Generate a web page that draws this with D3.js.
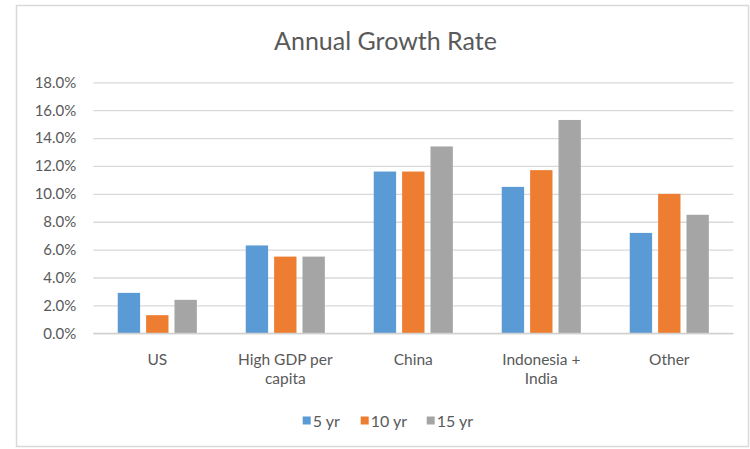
<!DOCTYPE html>
<html>
<head>
<meta charset="utf-8">
<script src="https://cdn.jsdelivr.net/npm/d3@7"></script>
<style>
  html, body { margin: 0; padding: 0; background: #fff; }
  svg { display: block; font-family: Lato, "Open Sans", sans-serif; }
</style>
</head>
<body>
<svg id="chart" width="750" height="449"></svg>
<script>
// Annual growth rate by region, three trailing horizons (percent)
const categories = ["US", "High GDP per capita", "China", "Indonesia + India", "Other"];
const seriesNames = ["5 yr", "10 yr", "15 yr"];
const growth5yr  = [2.9, 6.3, 11.6, 10.5, 7.2];
const growth10yr = [1.3, 5.5, 11.6, 11.7, 10.0];
const growth15yr = [2.4, 5.5, 13.4, 15.3, 8.5];
const yTicks = [0, 2, 4, 6, 8, 10, 12, 14, 16, 18];
const colors = ["#5B9BD5", "#ED7D31", "#A5A5A5"];

const seriesValues = [growth5yr, growth10yr, growth15yr];
const textColor = "#595959";

const svg = d3.select("#chart");

// chart frame
svg.append("rect")
  .attr("x", 16.5).attr("y", 5.5)
  .attr("width", 732).attr("height", 441)
  .attr("fill", "#fff")
  .attr("stroke", "#d9d9d9").attr("stroke-width", 1.5);

const plot = { left: 93.3, right: 733.3, top: 82.3, bottom: 333.3 };

const x = d3.scaleBand().domain(categories).range([plot.left, plot.right]).padding(0);
const xs = d3.scaleBand().domain(seriesNames)
  .range([x.bandwidth() * 0.191, x.bandwidth() * (1 - 0.191)])
  .paddingInner(0.212).paddingOuter(0);
const y = d3.scaleLinear().domain([0, 18]).range([plot.bottom, plot.top]);

// title
svg.append("text")
  .attr("x", 385.5).attr("y", 50)
  .attr("text-anchor", "middle")
  .attr("font-size", 25)
  .attr("fill", textColor)
  .text("Annual Growth Rate");

// gridlines + y axis labels
const yAxis = d3.axisLeft(y)
  .tickValues(yTicks)
  .tickSize(-(plot.right - plot.left))
  .tickPadding(17)
  .tickFormat(d => d.toFixed(1) + "%");

const gy = svg.append("g")
  .attr("transform", `translate(${plot.left},0)`)
  .call(yAxis);
gy.select(".domain").remove();
gy.selectAll(".tick line").attr("stroke", "#d9d9d9").attr("stroke-width", 1.3);
gy.selectAll(".tick text")
  .attr("fill", textColor)
  .attr("font-size", 15)
  .attr("font-family", "Lato, 'Open Sans', sans-serif");

// bars
const rows = categories.map((c, i) => ({
  category: c,
  values: seriesNames.map((s, j) => ({ series: s, j, value: seriesValues[j][i] }))
}));

const groups = svg.append("g").selectAll("g")
  .data(rows).join("g")
  .attr("transform", d => `translate(${x(d.category)},0)`);

groups.selectAll("rect")
  .data(d => d.values).join("rect")
  .attr("x", d => xs(d.series))
  .attr("width", xs.bandwidth())
  .attr("y", d => y(d.value))
  .attr("height", d => y(0) - y(d.value))
  .attr("fill", d => colors[d.j]);

// x axis baseline
svg.append("line")
  .attr("x1", plot.left).attr("x2", plot.right)
  .attr("y1", y(0)).attr("y2", y(0))
  .attr("stroke", "#d0d0d0").attr("stroke-width", 1.3);

// category labels, wrapped to the band width
const maxLabelWidth = 110;
const xLabels = svg.append("g").selectAll("text")
  .data(categories).join("text")
  .attr("x", d => x(d) + x.bandwidth() / 2)
  .attr("y", 365)
  .attr("text-anchor", "middle")
  .attr("font-size", 15.5)
  .attr("fill", textColor);

xLabels.each(function(d) {
  const t = d3.select(this);
  const cx = x(d) + x.bandwidth() / 2;
  let line = [];
  let tspan = t.append("tspan").attr("x", cx).attr("dy", 0);
  d.split(" ").forEach(w => {
    line.push(w);
    tspan.text(line.join(" "));
    if (tspan.node().getComputedTextLength() > maxLabelWidth && line.length > 1) {
      line.pop();
      tspan.text(line.join(" "));
      line = [w];
      tspan = t.append("tspan").attr("x", cx).attr("dy", 19).text(w);
    }
  });
});

// legend
const legendItems = [
  { name: seriesNames[0], sx: 302.7 },
  { name: seriesNames[1], sx: 360.7 },
  { name: seriesNames[2], sx: 426.7 }
];
const legend = svg.append("g").selectAll("g")
  .data(legendItems).join("g")
  .attr("transform", d => `translate(${d.sx},0)`);
legend.append("rect")
  .attr("x", 0).attr("y", 416.5)
  .attr("width", 8).attr("height", 8)
  .attr("fill", (d, i) => colors[i]);
legend.append("text")
  .attr("x", 10).attr("y", 426.5)
  .attr("font-size", 16)
  .attr("fill", textColor)
  .text(d => d.name);
</script>
</body>
</html>
